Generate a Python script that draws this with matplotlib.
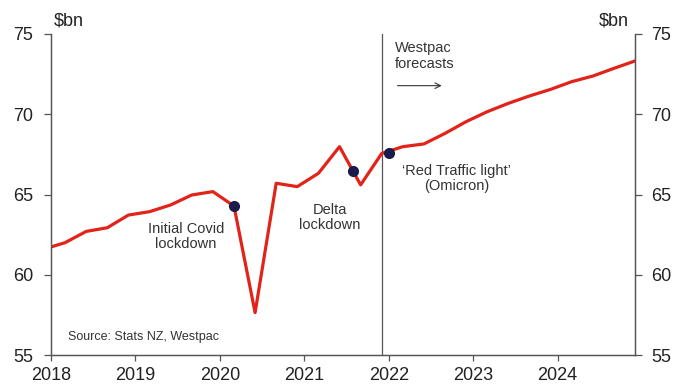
import numpy as np
import matplotlib
matplotlib.use('Agg')
import matplotlib.pyplot as plt

plt.rcParams['font.family'] = ['Liberation Sans', 'DejaVu Sans']

# quarterly retail spending, $bn (Dec 2017 to Dec 2024, forecasts from 2022)
years = [2017] + [y for y in range(2018, 2025) for _ in range(4)]
months = [12] + [3, 6, 9, 12] * 7
spend = [61.6,
         62.0, 62.7, 62.93, 63.72,
         63.93, 64.35, 64.97, 65.18,
         64.28, 57.64, 65.7, 65.49,
         66.32, 67.98, 65.6, 67.56,
         67.98, 68.15, 68.81, 69.54,
         70.16, 70.68, 71.14, 71.55,
         72.03, 72.38, 72.86, 73.32]

# lockdown markers
event_x = [2020.164, 2021.58, 2022.0]
event_y = [64.28, 66.46, 67.6]

forecast_start = 2021.915

x = np.array(years) + (np.array(months) - 1) / 12.0

fig = plt.figure(figsize=(6.75, 3.85), dpi=100)
ax = fig.add_axes([0.0756, 0.0779, 0.865, 0.8338])

red = '#E2231A'
navy = '#1B1B4B'
txt = '#333333'
axcol = '#555555'

ax.plot(x, spend, color=red, lw=2.3, zorder=3, clip_on=True)
ax.plot(event_x, event_y, 'o', color=navy, ms=7, zorder=4)
ax.axvline(forecast_start, color=axcol, lw=0.9, zorder=2)

ax.set_xlim(2018, 2024.915)
ax.set_ylim(55, 75)
ax.set_xticks(range(2018, 2025))
ax.set_yticks(range(55, 80, 5))

ax2 = ax.twinx()
ax2.set_ylim(55, 75)
ax2.set_yticks(range(55, 80, 5))

for a in (ax, ax2):
    a.spines['top'].set_visible(False)
    for s in ('left', 'right', 'bottom'):
        a.spines[s].set_color(axcol)
        a.spines[s].set_linewidth(0.9)
    a.tick_params(colors=axcol, labelcolor='#222222', labelsize=13, width=0.9, length=5)
ax.tick_params(axis='x', pad=4.5, length=4)
ax.tick_params(axis='y', pad=8)
ax2.tick_params(axis='y', pad=7)

ax.text(2018.03, 75.8, '$bn', fontsize=13, color='#222222', va='center', ha='left')
ax2.text(2024.84, 75.8, '$bn', fontsize=13, color='#222222', va='center', ha='right')

ax.text(2019.6, 62.41, 'Initial Covid\nlockdown', fontsize=10.5, color=txt,
        ha='center', va='center', linespacing=1.1)
ax.text(2021.3, 63.54, 'Delta\nlockdown', fontsize=10.5, color=txt,
        ha='center', va='center', linespacing=1.1)
ax.text(2022.8, 65.97, '\u2018Red Traffic light\u2019\n(Omicron)', fontsize=10.5, color=txt,
        ha='center', va='center', linespacing=1.1)
ax.text(2022.07, 73.63, 'Westpac\nforecasts', fontsize=10.5, color=txt,
        ha='left', va='center', linespacing=1.1)
ax.annotate('', xy=(2022.66, 71.78), xytext=(2022.07, 71.78),
            arrowprops=dict(arrowstyle='->', color=txt, lw=0.8))
ax.text(2018.2, 56.14, 'Source: Stats NZ, Westpac', fontsize=9, color=txt,
        ha='left', va='center')

fig.savefig('out.png', dpi=100)
